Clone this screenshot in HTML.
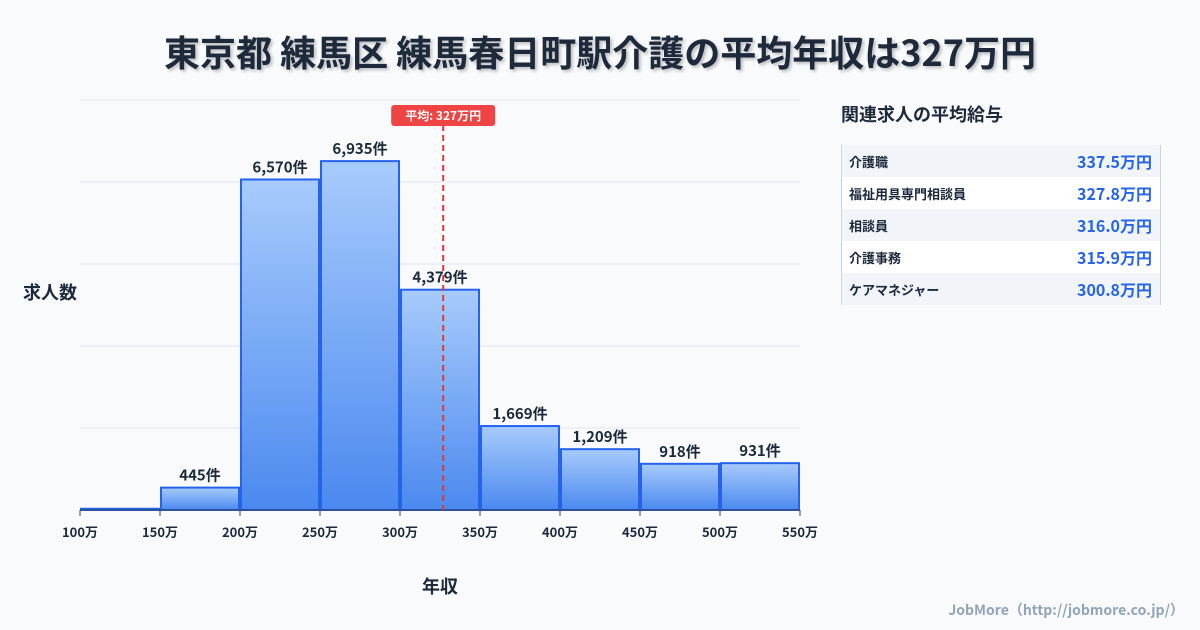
<!DOCTYPE html>
<html><head><meta charset="utf-8">
<style>
body{margin:0;background:#f8fafc;font-family:"Noto Sans CJK JP","Liberation Sans",sans-serif;}
#wrap{position:relative;width:1200px;height:630px;overflow:hidden;background:#f8fafc;}
.title{position:absolute;left:0;width:1200px;top:26px;text-align:center;font-size:36px;line-height:50px;font-weight:bold;color:#1e293b;text-shadow:2px 2px 3px rgba(0,0,0,0.25);}
.side-title{position:absolute;left:841px;top:100px;font-size:18px;line-height:28px;font-weight:bold;color:#1e293b;}
.table{position:absolute;left:841px;top:145px;width:318px;border-left:1px solid #cbd5e1;border-right:1px solid #cbd5e1;}
.row{height:32px;display:flex;justify-content:space-between;align-items:center;padding:0 8px 0 7px;}
.row:nth-child(odd){background:#f1f4f8;}
.row:nth-child(even){background:#fff;}
.row .n{font-size:13px;font-weight:bold;color:#1e293b;}
.row .v{font-size:16px;font-weight:bold;color:#2563eb;}
.foot{position:absolute;right:16px;top:600px;font-size:14px;font-weight:bold;color:#94a3b8;}
svg text{font-family:"Noto Sans CJK JP","Liberation Sans",sans-serif;}
</style></head><body>
<div id="wrap">
<div class="title">東京都 練馬区 練馬春日町駅介護の平均年収は327万円</div>
<svg id="chart" width="1200" height="630" style="position:absolute;left:0;top:0">
<defs><linearGradient id="g" x1="0" y1="0" x2="0" y2="1"><stop offset="0" stop-color="#a7cbfc"/><stop offset="1" stop-color="#4b89ef"/></linearGradient></defs>
</svg>
<div class="side-title">関連求人の平均給与</div>
<div class="table">
<div class="row"><span class="n">介護職</span><span class="v">337.5万円</span></div>
<div class="row"><span class="n">福祉用具専門相談員</span><span class="v">327.8万円</span></div>
<div class="row"><span class="n">相談員</span><span class="v">316.0万円</span></div>
<div class="row"><span class="n">介護事務</span><span class="v">315.9万円</span></div>
<div class="row"><span class="n">ケアマネジャー</span><span class="v">300.8万円</span></div>
</div>
<div class="foot">JobMore（http://jobmore.co.jp/）</div>
</div>
<script>
const binStarts=[100,150,200,250,300,350,400,450,500];
const counts=[25,445,6570,6935,4379,1669,1209,918,931];
const xTicks=[100,150,200,250,300,350,400,450,500,550];
const avg=327;
const NS="http://www.w3.org/2000/svg";
const svg=document.getElementById('chart');
const X0=80,X1=800,XMIN=100,XMAX=550,Y0=510,Y1=100,YMAX=8150;
const x=v=>X0+(v-XMIN)/(XMAX-XMIN)*(X1-X0);
const y=v=>Y0-v/YMAX*(Y0-Y1);
function mk(t,a,txt){const e=document.createElementNS(NS,t);for(const k in a)e.setAttribute(k,a[k]);if(txt!=null)e.textContent=txt;svg.appendChild(e);return e;}
for(let i=0;i<=5;i++){const gy=Y0-i*(Y0-Y1)/5;
const l=mk('line',{x1:X0,x2:X1,y1:gy,y2:gy,stroke:'#e2e8f0','stroke-width':1});

}
binStarts.forEach((b,i)=>{
const xa=x(b)+1,xb=x(b+50)-1,yt=y(counts[i]);
const r=mk('rect',{x:xa,y:yt,width:xb-xa,height:Y0-yt,fill:'url(#g)',stroke:'#2563eb','stroke-width':2});


if(counts[i]>100){const t=mk('text',{x:(xa+xb)/2,y:yt-7,'text-anchor':'middle','font-size':15,'font-weight':'bold',fill:'#1e293b'},counts[i].toLocaleString('en-US')+'件');

}
});
const ax=mk('line',{x1:X0,x2:X1,y1:Y0,y2:Y0,stroke:'#334155','stroke-width':1});


xTicks.forEach(v=>{
const tk=mk('line',{x1:x(v),x2:x(v),y1:Y0,y2:Y0+6,stroke:'#334155','stroke-width':1});


const t=mk('text',{x:x(v),y:Y0+27,'text-anchor':'middle','font-size':13,'font-weight':'bold',fill:'#1e293b'},v+'万');


});
const al=mk('line',{x1:x(avg),x2:x(avg),y1:125,y2:Y0,stroke:'#dc3b3b','stroke-width':2,'stroke-dasharray':'6,4'});


const ab=mk('rect',{x:x(avg)-52,y:105,width:104,height:21,rx:3,fill:'#ef4444'});


const at=mk('text',{x:x(avg),y:120,'text-anchor':'middle','font-size':12,'font-weight':'bold',fill:'#fff'},'平均: '+avg+'万円');


const yt=mk('text',{x:50,y:299,'text-anchor':'middle','font-size':18,'font-weight':'bold',fill:'#1e293b'},'求人数');


const xt=mk('text',{x:440,y:593,'text-anchor':'middle','font-size':18,'font-weight':'bold',fill:'#1e293b'},'年収');


</script>
</body></html>
